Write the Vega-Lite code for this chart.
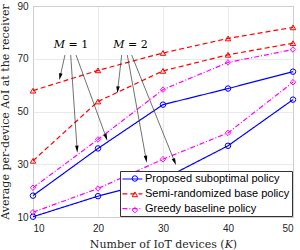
{
  "$schema": "https://vega.github.io/schema/vega-lite/v6.json",
  "width": 260,
  "height": 211,
  "autosize": "none",
  "padding": {"left": 33, "top": 6, "right": 7, "bottom": 33},
  "background": "white",
  "config": {
    "view": {"stroke": "#808080", "strokeWidth": 1},
    "axis": {
      "grid": true,
      "gridColor": "#e3e3e3",
      "gridWidth": 0.8,
      "domain": false,
      "ticks": false,
      "labelFont": "Liberation Sans",
      "labelFontSize": 10,
      "labelColor": "#262626",
      "titleFont": "DejaVu Serif",
      "titleFontSize": 11,
      "titleFontWeight": "normal",
      "titleColor": "#262626"
    }
  },
  "datasets": {
    "curves": [
      {"policy": "Proposed suboptimal policy", "M": 1, "K": 10, "aoi": 18.1},
      {"policy": "Proposed suboptimal policy", "M": 1, "K": 20, "aoi": 36.0},
      {"policy": "Proposed suboptimal policy", "M": 1, "K": 30, "aoi": 52.6},
      {"policy": "Proposed suboptimal policy", "M": 1, "K": 40, "aoi": 58.7},
      {"policy": "Proposed suboptimal policy", "M": 1, "K": 50, "aoi": 65.1},
      {"policy": "Proposed suboptimal policy", "M": 2, "K": 10, "aoi": 10.1},
      {"policy": "Proposed suboptimal policy", "M": 2, "K": 20, "aoi": 17.9},
      {"policy": "Proposed suboptimal policy", "M": 2, "K": 30, "aoi": 24.3},
      {"policy": "Proposed suboptimal policy", "M": 2, "K": 40, "aoi": 37.0},
      {"policy": "Proposed suboptimal policy", "M": 2, "K": 50, "aoi": 54.5},
      {"policy": "Semi-randomized base policy", "M": 1, "K": 10, "aoi": 57.9},
      {"policy": "Semi-randomized base policy", "M": 1, "K": 20, "aoi": 65.6},
      {"policy": "Semi-randomized base policy", "M": 1, "K": 30, "aoi": 72.2},
      {"policy": "Semi-randomized base policy", "M": 1, "K": 40, "aoi": 77.7},
      {"policy": "Semi-randomized base policy", "M": 1, "K": 50, "aoi": 81.9},
      {"policy": "Semi-randomized base policy", "M": 2, "K": 10, "aoi": 31.3},
      {"policy": "Semi-randomized base policy", "M": 2, "K": 20, "aoi": 53.8},
      {"policy": "Semi-randomized base policy", "M": 2, "K": 30, "aoi": 65.4},
      {"policy": "Semi-randomized base policy", "M": 2, "K": 40, "aoi": 71.5},
      {"policy": "Semi-randomized base policy", "M": 2, "K": 50, "aoi": 75.9},
      {"policy": "Greedy baseline policy", "M": 1, "K": 10, "aoi": 21.1},
      {"policy": "Greedy baseline policy", "M": 1, "K": 20, "aoi": 39.4},
      {"policy": "Greedy baseline policy", "M": 1, "K": 30, "aoi": 58.3},
      {"policy": "Greedy baseline policy", "M": 1, "K": 40, "aoi": 68.6},
      {"policy": "Greedy baseline policy", "M": 1, "K": 50, "aoi": 73.5},
      {"policy": "Greedy baseline policy", "M": 2, "K": 10, "aoi": 11.8},
      {"policy": "Greedy baseline policy", "M": 2, "K": 20, "aoi": 20.8},
      {"policy": "Greedy baseline policy", "M": 2, "K": 30, "aoi": 31.9},
      {"policy": "Greedy baseline policy", "M": 2, "K": 40, "aoi": 41.9},
      {"policy": "Greedy baseline policy", "M": 2, "K": 50, "aoi": 61.1}
    ],
    "arrows": [
      {"M": 1, "x0": 14.92, "y0": 71.4, "x1": 14.17, "y1": 63.2},
      {"M": 1, "x0": 15.80, "y0": 71.4, "x1": 16.78, "y1": 35.7},
      {"M": 1, "x0": 16.62, "y0": 71.4, "x1": 21.25, "y1": 40.2},
      {"M": 2, "x0": 23.65, "y0": 71.4, "x1": 23.03, "y1": 58.2},
      {"M": 2, "x0": 24.51, "y0": 71.4, "x1": 27.40, "y1": 31.9},
      {"M": 2, "x0": 25.18, "y0": 71.4, "x1": 31.80, "y1": 30.9}
    ],
    "labels": [
      {"label": "𝑀 = 1", "x": 15.85, "y": 75.2},
      {"label": "𝑀 = 2", "x": 25.0, "y": 75.2}
    ]
  },
  "layer": [
    {
      "data": {"name": "curves"},
      "mark": {"type": "line", "strokeWidth": 1.2},
      "encoding": {
        "x": {"field": "K", "type": "quantitative",
              "scale": {"domain": [10, 50], "nice": false, "zero": false},
              "axis": {"values": [10, 20, 30, 40, 50], "labelPadding": 6, "title": "Number of IoT devices (𝐾)", "titlePadding": 5}},
        "y": {"field": "aoi", "type": "quantitative",
              "scale": {"domain": [10, 90], "nice": false, "zero": false},
              "axis": {"values": [10, 20, 30, 40, 50, 60, 70, 80, 90], "labelPadding": 5, "title": "Average per-device AoI at the receiver", "titlePadding": 6}},
        "color": {"field": "policy", "type": "nominal",
                  "scale": {"domain": ["Proposed suboptimal policy", "Semi-randomized base policy", "Greedy baseline policy"], "range": ["#0000ff", "#ff0000", "#ff00ff"]},
                  "legend": {"orient": "none", "legendX": 87, "legendY": 165, "title": null, "symbolType": "M-1.12,0H2.88", "symbolSize": 100, "symbolStrokeWidth": 1.2, "labelFont": "Liberation Sans", "labelFontSize": 11, "labelColor": "#000000", "labelOffset": 11, "labelLimit": 300, "padding": 2, "rowPadding": 3.8, "fillColor": "white", "strokeColor": "#333333"}},
        "strokeDash": {"field": "policy", "type": "nominal",
                  "scale": {"domain": ["Proposed suboptimal policy", "Semi-randomized base policy", "Greedy baseline policy"], "range": [[1, 0], [5, 3], [5, 2, 1, 2]]},
                  "legend": {"orient": "none", "legendX": 87, "legendY": 165, "title": null, "symbolType": "M-1.12,0H2.88", "symbolSize": 100, "symbolStrokeWidth": 1.2, "labelFont": "Liberation Sans", "labelFontSize": 11, "labelColor": "#000000", "labelOffset": 11, "labelLimit": 300, "padding": 2, "rowPadding": 3.8, "fillColor": "white", "strokeColor": "#333333"}},
        "detail": {"field": "M"}
      }
    },
    {
      "data": {"name": "curves"},
      "mark": {"type": "point", "filled": false, "strokeWidth": 1, "size": 30, "opacity": 1},
      "encoding": {
        "x": {"field": "K", "type": "quantitative"},
        "y": {"field": "aoi", "type": "quantitative"},
        "color": {"field": "policy", "type": "nominal",
                  "legend": {"orient": "none", "legendX": 94.4, "legendY": 165, "title": null, "symbolStrokeWidth": 1, "symbolSize": 30, "labelFont": "Liberation Sans", "labelFontSize": 11, "labelColor": "transparent", "labelExpr": "' '", "labelOffset": 2, "labelLimit": 300, "padding": 2, "rowPadding": 3.8}},
        "shape": {"field": "policy", "type": "nominal",
                  "scale": {"domain": ["Proposed suboptimal policy", "Semi-randomized base policy", "Greedy baseline policy"], "range": ["circle", "triangle-up", "diamond"]},
                  "legend": {"orient": "none", "legendX": 94.4, "legendY": 165, "title": null, "symbolStrokeWidth": 1, "symbolSize": 30, "labelFont": "Liberation Sans", "labelFontSize": 11, "labelColor": "transparent", "labelExpr": "' '", "labelOffset": 2, "labelLimit": 300, "padding": 2, "rowPadding": 3.8}}
      }
    },
    {
      "data": {"name": "arrows"},
      "mark": {"type": "rule", "color": "#333333", "strokeWidth": 0.7},
      "encoding": {
        "x": {"field": "x0", "type": "quantitative"},
        "y": {"field": "y0", "type": "quantitative"},
        "x2": {"field": "x1"},
        "y2": {"field": "y1"}
      }
    },
    {
      "data": {"name": "arrows"},
      "transform": [{"calculate": "atan2(-(datum.x1 - datum.x0) * 6.5, (datum.y0 - datum.y1) * 2.6375) * 180 / PI", "as": "angle"}],
      "mark": {"type": "point", "shape": "M-0.5,-1L0,1L0.5,-1Z", "filled": true, "color": "#000000", "size": 49, "opacity": 1},
      "encoding": {
        "x": {"field": "x1", "type": "quantitative"},
        "y": {"field": "y1", "type": "quantitative"},
        "angle": {"field": "angle", "type": "quantitative", "scale": null}
      }
    },
    {
      "data": {"name": "labels"},
      "mark": {"type": "text", "font": "DejaVu Serif", "fontSize": 11, "color": "#000000", "align": "center", "baseline": "middle"},
      "encoding": {
        "x": {"field": "x", "type": "quantitative"},
        "y": {"field": "y", "type": "quantitative"},
        "text": {"field": "label"}
      }
    }
  ],
  "resolve": {"legend": {"color": "independent", "strokeDash": "independent", "shape": "independent"}}
}
